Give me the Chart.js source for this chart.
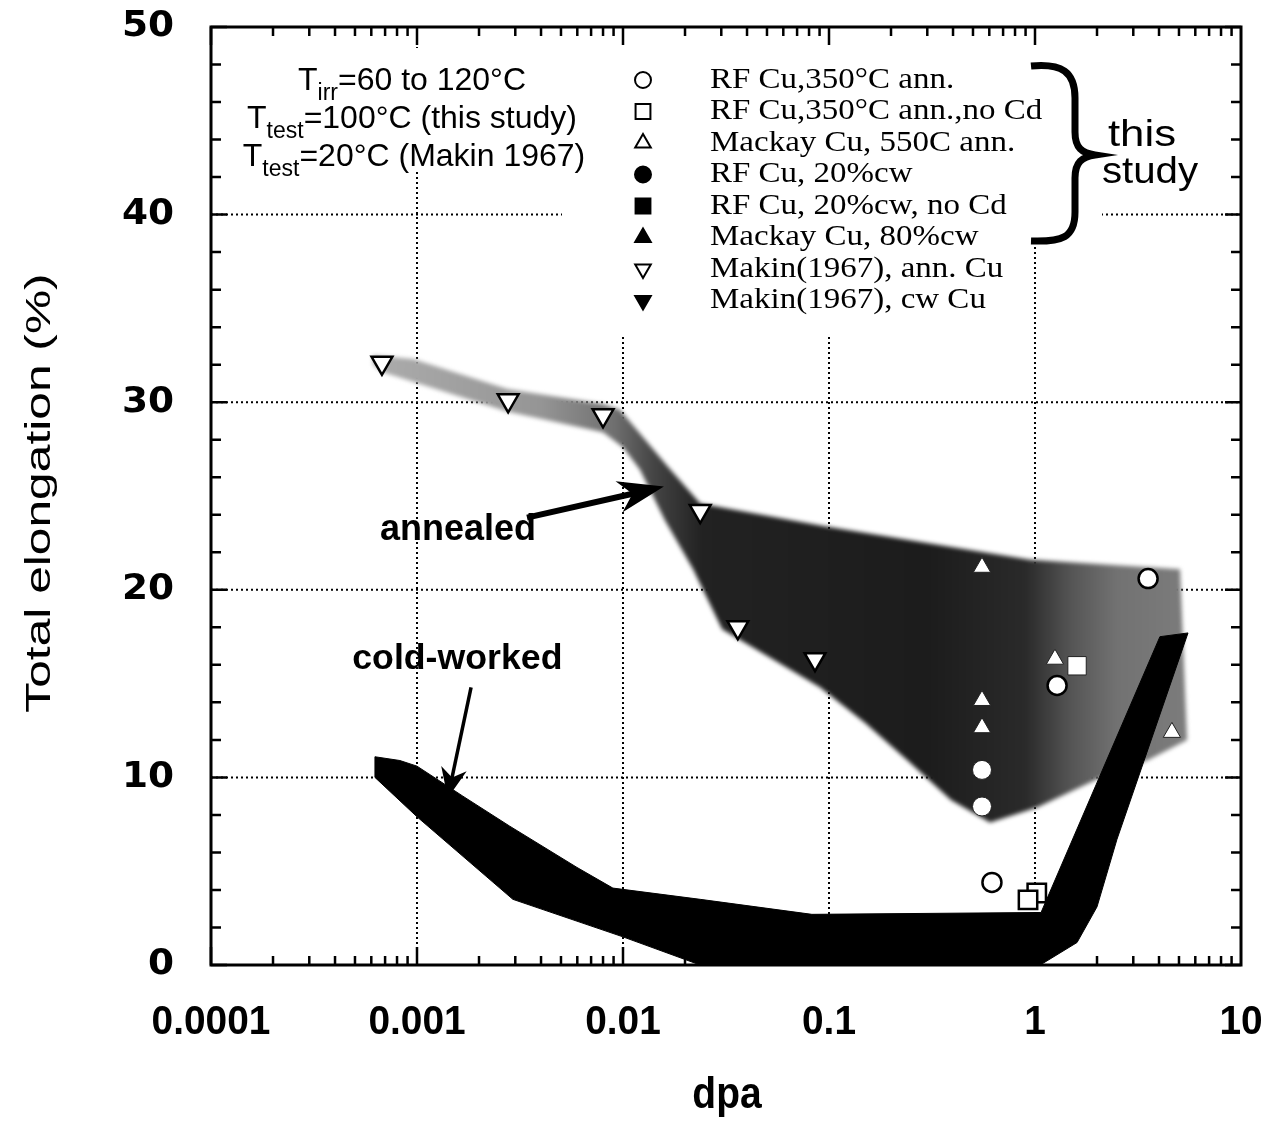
<!DOCTYPE html>
<html>
<head>
<meta charset="utf-8">
<script src="https://cdn.jsdelivr.net/npm/chart.js@4.4.1/dist/chart.umd.min.js"></script>
<style>
  html, body { margin: 0; padding: 0; background: #fff; }
  canvas { display: block; }
</style>
</head>
<body>
<canvas id="myChart" width="1275" height="1124"></canvas>
<script>
// DATA: x = dpa, y = total elongation (%)
const xTickValues = [0.0001, 0.001, 0.01, 0.1, 1, 10];
const xTickLabels = ["0.0001", "0.001", "0.01", "0.1", "1", "10"];
const yTickValues = [0, 10, 20, 30, 40, 50];
const yTickLabels = ["0", "10", "20", "30", "40", "50"];

const rfAnnealed = [{ x: 3.54, y: 20.6 }, { x: 1.28, y: 14.9 }, { x: 0.618, y: 4.4 }];
const rfAnnealedNoCd = [{ x: 1.02, y: 3.84 }, { x: 0.925, y: 3.47 }];
const mackayAnnealed = [{ x: 0.553, y: 21.2 }, { x: 1.25, y: 16.3 }, { x: 4.62, y: 12.4 }];
const rfColdWorked = [{ x: 0.553, y: 10.4 }, { x: 0.553, y: 8.45 }];
const rfColdWorkedNoCd = [{ x: 1.6, y: 15.95 }];
const mackayColdWorked = [{ x: 0.553, y: 14.1 }, { x: 0.553, y: 12.65 }];
const makinAnnealed = [
  { x: 0.000676, y: 32.1 }, { x: 0.00277, y: 30.1 }, { x: 0.008, y: 29.3 },
  { x: 0.0237, y: 24.2 }, { x: 0.0361, y: 18.0 }, { x: 0.0855, y: 16.3 }
];
const makinColdWorked = [];

// outline of the shaded "annealed" band
const annealedBand = [
  [0.000611, 32.5], [0.000957, 32.3], [0.00274, 30.7], [0.008, 29.9], [0.00966, 29.6],
  [0.0164, 26.6], [0.0237, 24.6], [0.0935, 23.4], [0.386, 22.3], [0.946, 21.6],
  [5.06, 21.1], [5.47, 12.0], [3.5, 10.9], [2.0, 9.9], [1.02, 8.4], [0.605, 7.6],
  [0.391, 8.8], [0.247, 10.8], [0.15, 12.9], [0.0904, 14.8], [0.0479, 16.6],
  [0.0303, 17.9], [0.0219, 21.1], [0.016, 23.7], [0.0121, 26.4], [0.01, 27.6],
  [0.008, 28.4], [0.00274, 29.5], [0.000684, 31.6], [0.000611, 32.0]
];
// outline of the black "cold-worked" band
const coldWorkedBand = [
  [0.000625, 11.1], [0.000826, 10.9], [0.001, 10.6], [0.00167, 9.0], [0.00282, 7.4],
  [0.00598, 5.2], [0.00893, 4.1], [0.0237, 3.5], [0.0826, 2.7], [1.07, 2.8],
  [4.04, 17.5], [5.53, 17.7], [2.5, 6.7], [2.0, 3.1], [1.6, 1.2], [1.06, 0],
  [0.0237, 0], [0.01, 1.5], [0.00292, 3.5], [0.001, 7.9], [0.000625, 10.0], [0.000625, 11.1]
];

const legendLabels = [
  "RF Cu,350°C ann.", "RF Cu,350°C ann.,no Cd", "Mackay Cu, 550C ann.", "RF Cu, 20%cw",
  "RF Cu, 20%cw, no Cd", "Mackay Cu, 80%cw", "Makin(1967), ann. Cu", "Makin(1967), cw Cu"
];

// annotation anchors (data coordinates)
const annealedArrow = [{ x: 0.00342, y: 23.85 }, { x: 0.0158, y: 25.5 }];
const coldArrow = [{ x: 0.00183, y: 14.8 }, { x: 0.00141, y: 8.9 }];
const annealedLabelAt = { x: 0.00158, y: 23.2 };
const coldLabelAt = { x: 0.00157, y: 16.27 };

// STYLE
const legendMarkers = [
  { pointStyle: "circle", radius: 8, filled: false },
  { pointStyle: "rect", radius: 10.5, filled: false },
  { pointStyle: "triangle", radius: 9, filled: false },
  { pointStyle: "circle", radius: 8, filled: true },
  { pointStyle: "rect", radius: 10.5, filled: true },
  { pointStyle: "triangle", radius: 9, filled: true },
  { pointStyle: "triangle", radius: 9, filled: false, rotation: 180 },
  { pointStyle: "triangle", radius: 9, filled: true, rotation: 180 }
];
const shadeStops = [
  [0.0006, "#acacac"], [0.004, "#959595"], [0.009, "#707070"], [0.014, "#454545"],
  [0.024, "#222"], [0.3, "#1c1c1c"], [0.9, "#2a2a2a"], [1.5, "#555"], [2.5, "#727272"], [5.5, "#7c7c7c"]
];

function toXY(pairs) {
  return pairs.map((p) => ({ x: p[0], y: p[1] }));
}

function text(ctx, s, x, y, font, align, sx, sy) {
  ctx.save();
  ctx.translate(x, y);
  ctx.scale(sx || 1, sy || 1);
  ctx.font = font;
  ctx.fillStyle = "#000";
  ctx.textAlign = align || "center";
  ctx.textBaseline = "middle";
  ctx.fillText(s, 0, 0);
  ctx.restore();
}

// text with subscripts, parts = [[str, isSub], ...], centred on x
function subText(ctx, parts, cx, y, size) {
  const big = size + "px 'Liberation Sans', Arial, sans-serif";
  const small = Math.round(size * 0.72) + "px 'Liberation Sans', Arial, sans-serif";
  let total = 0;
  parts.forEach((p) => {
    ctx.font = p[1] ? small : big;
    total += ctx.measureText(p[0]).width;
  });
  let x = cx - total / 2;
  ctx.save();
  ctx.fillStyle = "#000";
  ctx.textAlign = "left";
  ctx.textBaseline = "alphabetic";
  parts.forEach((p) => {
    ctx.font = p[1] ? small : big;
    ctx.fillText(p[0], x, p[1] ? y + size * 0.3 : y);
    x += ctx.measureText(p[0]).width;
  });
  ctx.restore();
}

function arrow(ctx, x1, y1, x2, y2, lw, headLen, headHalf) {
  const ang = Math.atan2(y2 - y1, x2 - x1);
  ctx.save();
  ctx.translate(x2, y2);
  ctx.rotate(ang);
  const len = Math.hypot(x2 - x1, y2 - y1);
  ctx.fillStyle = "#000";
  ctx.strokeStyle = "#000";
  ctx.lineWidth = lw;
  ctx.beginPath();
  ctx.moveTo(-len, 0);
  ctx.lineTo(-headLen * 0.6, 0);
  ctx.stroke();
  ctx.beginPath();
  ctx.moveTo(0, 0);
  ctx.lineTo(-headLen, -headHalf);
  ctx.lineTo(-headLen * 0.7, 0);
  ctx.lineTo(-headLen, headHalf);
  ctx.closePath();
  ctx.fill();
  ctx.restore();
}

const decor = {
  id: "decor",
  beforeDatasetsDraw(chart) {
    const { ctx, chartArea: a, scales } = chart;
    const xs = scales.x, ys = scales.y;
    ctx.save();
    ctx.strokeStyle = "#000";
    ctx.lineWidth = 2;
    ctx.setLineDash([2, 3]);
    xTickValues.slice(1, -1).forEach((v) => {
      const px = xs.getPixelForValue(v);
      ctx.beginPath(); ctx.moveTo(px, a.top); ctx.lineTo(px, a.bottom); ctx.stroke();
    });
    yTickValues.slice(1, -1).forEach((v) => {
      const py = ys.getPixelForValue(v);
      ctx.beginPath(); ctx.moveTo(a.left, py); ctx.lineTo(a.right, py); ctx.stroke();
    });
    // keep the grid out of the text block and the legend
    ctx.fillStyle = "#fff";
    ctx.fillRect(a.left + 30, a.top + 21, 321, 124);
    ctx.fillRect(a.left + 351, a.top + 18, 468, 290);
    ctx.fillRect(a.left + 819, a.top + 18, 72, 200);
    ctx.restore();
    ctx.filter = "blur(2px)";
  },
  afterDatasetDraw(chart, args) {
    if (args.index === 0) chart.ctx.filter = "none";
  },
  afterDatasetsDraw(chart) {
    const { ctx, chartArea: a, scales } = chart;
    const xs = scales.x, ys = scales.y;
    ctx.save();
    ctx.filter = "none";
    ctx.strokeStyle = "#000";
    ctx.lineCap = "butt";

    // ticks on all four sides, pointing inwards
    ctx.lineWidth = 2.5;
    for (let d = -4; d < 1; d++) {
      for (let m = 1; m < 10; m++) {
        const v = m * Math.pow(10, d);
        const px = xs.getPixelForValue(v);
        const L = m === 1 ? 18 : 9;
        ctx.beginPath();
        ctx.moveTo(px, a.bottom); ctx.lineTo(px, a.bottom - L);
        ctx.moveTo(px, a.top); ctx.lineTo(px, a.top + L);
        ctx.stroke();
      }
    }
    for (let v = 0; v <= 50; v += 2) {
      const py = ys.getPixelForValue(v);
      const L = v % 10 === 0 ? 16 : 10;
      ctx.beginPath();
      ctx.moveTo(a.left, py); ctx.lineTo(a.left + L, py);
      ctx.moveTo(a.right, py); ctx.lineTo(a.right - L, py);
      ctx.stroke();
    }
    ctx.lineWidth = 3;
    ctx.strokeRect(a.left, a.top, a.right - a.left, a.bottom - a.top);

    // tick labels and axis titles
    xTickValues.forEach((v, i) => {
      text(ctx, xTickLabels[i], xs.getPixelForValue(v), a.bottom + 58, "bold 37px 'Liberation Sans', Arial, sans-serif", "center", 1.05, 1.12);
    });
    yTickValues.forEach((v, i) => {
      text(ctx, yTickLabels[i], a.left - 37, ys.getPixelForValue(v), "bold 36px 'DejaVu Sans', sans-serif", "right", 1.04, 1.0);
    });
    text(ctx, "dpa", (a.left + a.right) / 2 + 1, a.bottom + 131, "bold 39px 'Liberation Sans', Arial, sans-serif", "center", 1.0, 1.15);
    ctx.save();
    ctx.translate(40, 493);
    ctx.rotate(-Math.PI / 2);
    text(ctx, "Total elongation (%)", 0, 0, "35px 'Liberation Sans', Arial, sans-serif", "center", 1.42, 1);
    ctx.restore();

    // condition notes
    subText(ctx, [["T", false], ["irr", true], ["=60 to 120°C", false]], 412, 90, 32);
    subText(ctx, [["T", false], ["test", true], ["=100°C (this study)", false]], 412, 128, 32);
    subText(ctx, [["T", false], ["test", true], ["=20°C (Makin 1967)", false]], 414, 166, 32);

    // legend
    const rowY = [80, 111.5, 143, 174.5, 206, 237.5, 269, 300.5];
    legendLabels.forEach((lab, i) => {
      const m = legendMarkers[i];
      ctx.fillStyle = m.filled ? "#000" : "#fff";
      ctx.strokeStyle = "#000";
      ctx.lineWidth = 2;
      Chart.helpers.drawPoint(ctx, { pointStyle: m.pointStyle, radius: m.radius, rotation: m.rotation || 0, borderWidth: 2 }, 643, rowY[i]);
      text(ctx, lab, 710, rowY[i], "30px 'Liberation Serif', 'Times New Roman', serif", "left", 1.1, 1);
    });

    // brace and "this study"
    ctx.lineWidth = 7;
    ctx.strokeStyle = "#000";
    ctx.beginPath();
    ctx.moveTo(1031, 66);
    ctx.bezierCurveTo(1062, 63, 1075, 72, 1075, 98);
    ctx.lineTo(1075, 132);
    ctx.bezierCurveTo(1075, 148, 1082, 153, 1095, 155);
    ctx.bezierCurveTo(1082, 157, 1075, 162, 1075, 178);
    ctx.lineTo(1075, 212);
    ctx.bezierCurveTo(1075, 238, 1062, 242, 1031, 241);
    ctx.stroke();
    text(ctx, "this", 1142, 136, "35px 'Liberation Sans', Arial, sans-serif", "center", 1.25, 1.05);
    text(ctx, "study", 1150, 173, "35px 'Liberation Sans', Arial, sans-serif", "center", 1.15, 1.05);

    // band labels and arrows
    text(ctx, "annealed", xs.getPixelForValue(annealedLabelAt.x), ys.getPixelForValue(annealedLabelAt.y), "bold 36px 'Liberation Sans', Arial, sans-serif", "center");
    text(ctx, "cold-worked", xs.getPixelForValue(coldLabelAt.x), ys.getPixelForValue(coldLabelAt.y), "bold 35px 'Liberation Sans', Arial, sans-serif", "center", 1.02, 1);
    arrow(ctx, xs.getPixelForValue(annealedArrow[0].x), ys.getPixelForValue(annealedArrow[0].y),
      xs.getPixelForValue(annealedArrow[1].x), ys.getPixelForValue(annealedArrow[1].y), 6, 46, 16);
    arrow(ctx, xs.getPixelForValue(coldArrow[0].x), ys.getPixelForValue(coldArrow[0].y),
      xs.getPixelForValue(coldArrow[1].x), ys.getPixelForValue(coldArrow[1].y), 3.5, 30, 13);
    ctx.restore();
  }
};

function markerSet(data, style, radius, filled, rotation) {
  return {
    type: "line",
    data: data,
    showLine: false,
    pointStyle: style,
    pointRadius: radius,
    pointRotation: rotation || 0,
    pointBackgroundColor: "#fff",
    pointBorderColor: filled ? "#222" : "#000",
    pointBorderWidth: filled ? 1 : 2.5,
    order: 0
  };
}

const ctx = document.getElementById("myChart").getContext("2d");
const chart = new Chart(ctx, {
  type: "line",
  data: {
    datasets: [
      {
        label: "annealed",
        data: toXY(annealedBand),
        showLine: true,
        fill: "shape",
        borderWidth: 0,
        borderColor: "rgba(0,0,0,0)",
        pointRadius: 0,
        tension: 0,
        order: 10,
        backgroundColor: (c) => {
          const ch = c.chart;
          if (!ch.chartArea) return "#555";
          const xs = ch.scales.x;
          const x0 = xs.getPixelForValue(shadeStops[0][0]);
          const x1 = xs.getPixelForValue(shadeStops[shadeStops.length - 1][0]);
          const g = ch.ctx.createLinearGradient(x0, 0, x1, 0);
          shadeStops.forEach((s) => {
            g.addColorStop((xs.getPixelForValue(s[0]) - x0) / (x1 - x0), s[1]);
          });
          return g;
        }
      },
      {
        label: "cold-worked",
        data: toXY(coldWorkedBand),
        showLine: true,
        fill: "shape",
        backgroundColor: "#000",
        borderColor: "#000",
        borderWidth: 1,
        pointRadius: 0,
        tension: 0,
        order: 9
      },
      Object.assign(markerSet(rfAnnealed, "circle", 9.5, false), { label: legendLabels[0] }),
      Object.assign(markerSet(rfAnnealedNoCd, "rect", 13, false), { label: legendLabels[1] }),
      Object.assign(markerSet(mackayAnnealed, "triangle", 10, true), { label: legendLabels[2] }),
      Object.assign(markerSet(rfColdWorked, "circle", 9.5, true), { label: legendLabels[3] }),
      Object.assign(markerSet(rfColdWorkedNoCd, "rect", 13, true), { label: legendLabels[4] }),
      Object.assign(markerSet(mackayColdWorked, "triangle", 10, true), { label: legendLabels[5] }),
      Object.assign(markerSet(makinAnnealed, "triangle", 12, false, 180), { label: legendLabels[6] }),
      Object.assign(markerSet(makinColdWorked, "triangle", 12, true, 180), { label: legendLabels[7] })
    ]
  },
  options: {
    responsive: false,
    animation: false,
    layout: { padding: { left: 0, top: 27, right: 34, bottom: 0 } },
    plugins: { legend: { display: false }, tooltip: { enabled: false } },
    scales: {
      x: {
        type: "logarithmic",
        min: 0.0001,
        max: 10,
        grid: { display: false },
        border: { display: false },
        ticks: { display: false },
        afterFit: (s) => { s.height = 159; }
      },
      y: {
        type: "linear",
        min: 0,
        max: 50,
        grid: { display: false },
        border: { display: false },
        ticks: { display: false },
        afterFit: (s) => { s.width = 211; }
      }
    }
  },
  plugins: [decor]
});
</script>
</body>
</html>
